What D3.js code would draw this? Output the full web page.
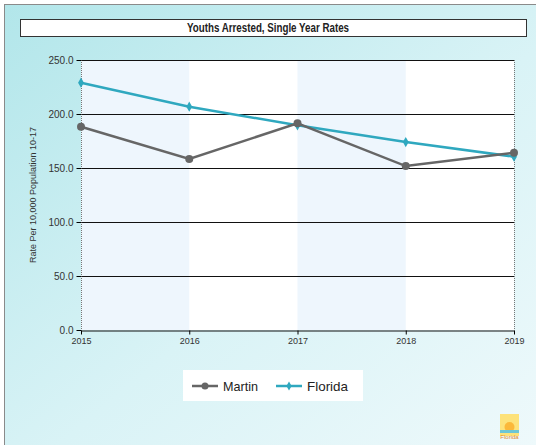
<!DOCTYPE html>
<html>
<head>
<meta charset="utf-8">
<script src="https://cdn.jsdelivr.net/npm/d3@7"></script>
<style>
  body { margin: 0; padding: 0; }
  svg { display: block; }
  text { font-family: "Liberation Sans Narrow", "Liberation Sans", Arial, sans-serif; }
</style>
</head>
<body>
<script>
// data
const years = [2015, 2016, 2017, 2018, 2019];
const martin = [188.2, 158.3, 191.4, 151.8, 164.2];
const florida = [229.0, 206.8, 189.5, 174.0, 160.5];
const yTicks = [0, 50, 100, 150, 200, 250];
const seriesNames = ["Martin", "Florida"];
const seriesColors = ["#666666", "#2fa8bf"];

const width = 536, height = 445;
const margin = { left: 81, right: 22, top: 60, bottom: 115 };

const svg = d3.select("body").append("svg")
  .attr("width", width)
  .attr("height", height);

const defs = svg.append("defs");
const grad = defs.append("linearGradient")
  .attr("id", "bg")
  .attr("x1", "0%").attr("y1", "0%")
  .attr("x2", "100%").attr("y2", "100%");
grad.append("stop").attr("offset", "0%").attr("stop-color", "#b2e6ea");
grad.append("stop").attr("offset", "55%").attr("stop-color", "#d9f3f6");
grad.append("stop").attr("offset", "100%").attr("stop-color", "#eef9fb");

svg.append("rect")
  .attr("x", 4.5).attr("y", 4.5)
  .attr("width", width - 4).attr("height", height - 4)
  .attr("fill", "url(#bg)")
  .attr("stroke", "#8a8a8a");

// title
svg.append("rect")
  .attr("x", 20.5).attr("y", 19.5)
  .attr("width", 506).attr("height", 17)
  .attr("fill", "#fff")
  .attr("stroke", "#333");
svg.append("text")
  .attr("x", 187).attr("y", 32)
  .attr("font-size", 12)
  .attr("font-weight", "bold")
  .attr("fill", "#222")
  .attr("textLength", 162)
  .attr("lengthAdjust", "spacingAndGlyphs")
  .text("Youths Arrested, Single Year Rates");

const x = d3.scaleLinear()
  .domain([2015, 2019])
  .range([margin.left, width - margin.right]);
const y = d3.scaleLinear()
  .domain([0, 250])
  .range([height - margin.bottom, margin.top]);

// plot background with bands
svg.append("rect")
  .attr("x", x(2015)).attr("y", y(250))
  .attr("width", x(2019) - x(2015)).attr("height", y(0) - y(250))
  .attr("fill", "#fff");
svg.selectAll(".band")
  .data([2015, 2017])
  .enter().append("rect")
  .attr("x", d => x(d))
  .attr("y", y(250))
  .attr("width", d => x(d + 1) - x(d))
  .attr("height", y(0) - y(250))
  .attr("fill", "#eef6fd");

// grid
svg.selectAll(".grid")
  .data(yTicks.filter(d => d > 0))
  .enter().append("line")
  .attr("x1", x(2015)).attr("x2", x(2019))
  .attr("y1", d => Math.round(y(d)) + 0.5)
  .attr("y2", d => Math.round(y(d)) + 0.5)
  .attr("stroke", "#111");

// dotted vertical edges
svg.selectAll(".vedge")
  .data([2015, 2019])
  .enter().append("line")
  .attr("x1", d => Math.round(x(d)) + 0.5).attr("x2", d => Math.round(x(d)) + 0.5)
  .attr("y1", y(250)).attr("y2", y(0))
  .attr("stroke", "#777")
  .attr("stroke-dasharray", "1,1");

// axes
const yAxis = svg.append("g")
  .attr("transform", `translate(${Math.round(x(2015)) + 0.5},0)`)
  .call(d3.axisLeft(y).tickValues(yTicks).tickFormat(d3.format(".1f")).tickSize(5).tickSizeOuter(0));
yAxis.select(".domain").remove();
yAxis.selectAll("text").attr("font-size", 10).attr("fill", "#333")
  .attr("font-family", "Liberation Sans Narrow, Liberation Sans, Arial, sans-serif");

const xAxis = svg.append("g")
  .attr("transform", `translate(0,${Math.round(y(0)) + 0.5})`)
  .call(d3.axisBottom(x).tickValues(years).tickFormat(d3.format("d")).tickSize(4).tickSizeOuter(0));
xAxis.select(".domain").attr("stroke", "#111");
xAxis.selectAll("text").attr("font-size", 9).attr("fill", "#333")
  .attr("font-family", "Liberation Sans Narrow, Liberation Sans, Arial, sans-serif");

// y label
svg.append("text")
  .attr("transform", `translate(36,${(y(0) + y(250)) / 2}) rotate(-90)`)
  .attr("text-anchor", "middle")
  .attr("font-size", 9)
  .attr("fill", "#333")
  .text("Rate Per 10,000 Population 10-17");

// lines
const line = d3.line()
  .x((d, i) => x(years[i]))
  .y(d => y(d));

svg.append("path")
  .datum(florida)
  .attr("d", line)
  .attr("fill", "none")
  .attr("stroke", seriesColors[1])
  .attr("stroke-width", 2.5);
svg.selectAll(".fpt")
  .data(florida)
  .enter().append("path")
  .attr("transform", (d, i) => `translate(${x(years[i])},${y(d)})`)
  .attr("d", d3.symbol(d3.symbolDiamond, 30))
  .attr("fill", seriesColors[1]);

svg.append("path")
  .datum(martin)
  .attr("d", line)
  .attr("fill", "none")
  .attr("stroke", seriesColors[0])
  .attr("stroke-width", 2.5);
svg.selectAll(".mpt")
  .data(martin)
  .enter().append("circle")
  .attr("cx", (d, i) => x(years[i]))
  .attr("cy", d => y(d))
  .attr("r", 4)
  .attr("fill", seriesColors[0]);

// legend
svg.append("rect")
  .attr("x", 183).attr("y", 370)
  .attr("width", 180).attr("height", 31)
  .attr("fill", "#fff");
const lg = svg.selectAll(".lg")
  .data(seriesNames)
  .enter().append("g")
  .attr("transform", (d, i) => `translate(${192 + i * 84},386)`);
lg.append("line")
  .attr("x1", 0).attr("x2", 26)
  .attr("stroke", (d, i) => seriesColors[i])
  .attr("stroke-width", 2.5);
lg.each(function (d, i) {
  const g = d3.select(this);
  if (i === 0) {
    g.append("circle").attr("cx", 13).attr("r", 3.5).attr("fill", seriesColors[i]);
  } else {
    g.append("path").attr("transform", "translate(13,0)")
      .attr("d", d3.symbol(d3.symbolDiamond, 24)).attr("fill", seriesColors[i]);
  }
});
lg.append("text")
  .attr("x", 31).attr("y", 5)
  .attr("font-size", 13)
  .attr("fill", "#222")
  .attr("textLength", (d, i) => i === 0 ? 35 : 41)
  .attr("lengthAdjust", "spacingAndGlyphs")
  .text(d => d);

// small Florida logo
const logo = svg.append("g").attr("transform", "translate(500,414)");
logo.append("rect").attr("width", 19).attr("height", 22).attr("fill", "#fde27a");
logo.append("circle").attr("cx", 9.5).attr("cy", 13).attr("r", 5).attr("fill", "#fbb83a");
logo.append("rect").attr("y", 16).attr("width", 19).attr("height", 3).attr("fill", "#6cc6d6");
logo.append("text").attr("x", 9.5).attr("y", 25).attr("text-anchor", "middle")
  .attr("font-size", 6).attr("fill", "#e08a2c").text("Florida");
</script>
</body>
</html>
